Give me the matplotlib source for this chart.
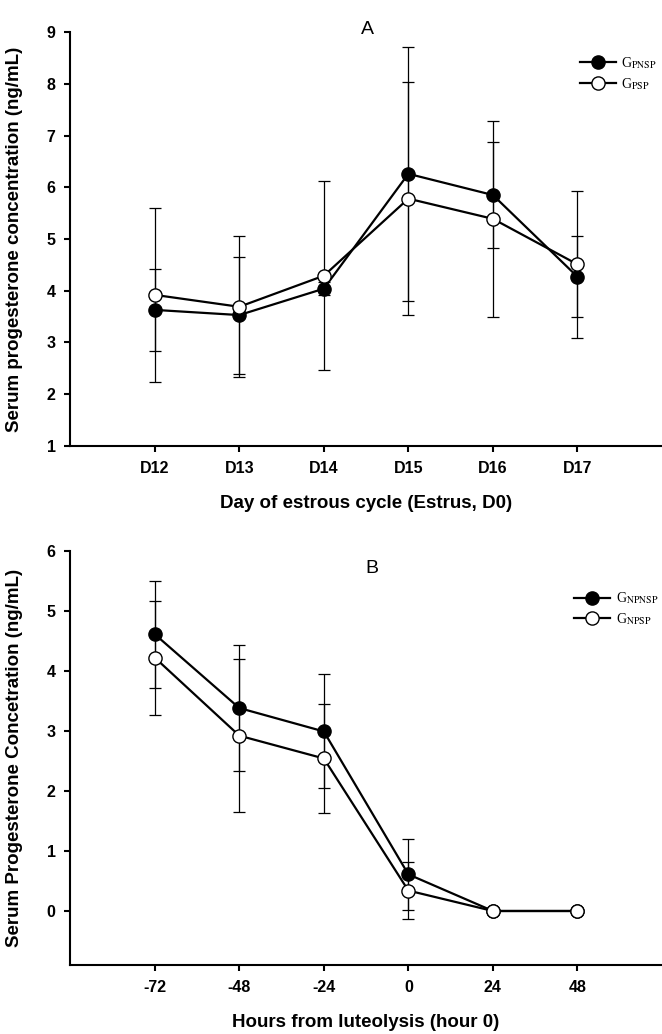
import matplotlib.pyplot as plt
import numpy as np

plt.rcParams['font.family'] = ['Liberation Sans', 'DejaVu Sans']
plt.rcParams['mathtext.fontset'] = 'stix'
plt.rcParams['axes.unicode_minus'] = False

# Panel A: days of the estrous cycle
days = ['D12', 'D13', 'D14', 'D15', 'D16', 'D17']
pnsp_mean = [3.63, 3.53, 4.04, 6.26, 5.85, 4.27]
pnsp_err = [0.80, 1.13, 0.12, 2.45, 1.03, 0.78]
psp_mean = [3.92, 3.69, 4.29, 5.78, 5.39, 4.51]
psp_err = [1.68, 1.36, 1.83, 2.25, 1.90, 1.42]

# Panel B: hours from luteolysis
hours = [-72, -48, -24, 0, 24, 48]
npnsp_mean = [4.61, 3.38, 2.99, 0.61, 0.0, 0.0]
npnsp_err = [0.89, 1.05, 0.95, 0.59, 0.0, 0.0]
npsp_mean = [4.22, 2.92, 2.54, 0.34, 0.0, 0.0]
npsp_err = [0.95, 1.27, 0.91, 0.47, 0.0, 0.0]


def draw_pair(ax, x, m1, e1, m2, e2, lab1, lab2):
    ax.errorbar(x, m1, yerr=e1, fmt='none', ecolor='black', elinewidth=0.9,
                capsize=4, capthick=0.9, zorder=1)
    ax.errorbar(x, m2, yerr=e2, fmt='none', ecolor='black', elinewidth=0.9,
                capsize=4, capthick=0.9, zorder=1)
    ax.plot(x, m1, '-o', color='black', lw=1.6, ms=9.5, mfc='black',
            mec='black', mew=1, label=lab1, zorder=3)
    ax.plot(x, m2, '-o', color='black', lw=1.6, ms=9.5, mfc='white',
            mec='black', mew=1, label=lab2, zorder=4)


def style_axes(ax):
    for s in ['top', 'right']:
        ax.spines[s].set_visible(False)
    for s in ['left', 'bottom']:
        ax.spines[s].set_linewidth(1.5)
    ax.tick_params(direction='out', length=4.5, width=1.5, labelsize=11.5, pad=6)
    for lab in ax.get_xticklabels() + ax.get_yticklabels():
        lab.set_fontweight('bold')


fig = plt.figure(figsize=(6.62, 10.34), dpi=100)

# ---- A ----
axA = fig.add_axes([0.106, 0.5687, 0.894, 0.4003])
xA = np.arange(1, len(days) + 1)
draw_pair(axA, xA, pnsp_mean, pnsp_err, psp_mean, psp_err,
          r'G$_{\mathrm{PNSP}}$', r'G$_{\mathrm{PSP}}$')
axA.set_xlim(0, 7)
axA.set_ylim(1, 9)
axA.set_xticks(xA)
axA.set_xticklabels(days)
axA.set_yticks(range(1, 10))
style_axes(axA)
axA.set_xlabel('Day of estrous cycle (Estrus, D0)', fontsize=13.5, fontweight='bold', labelpad=14)
axA.set_ylabel('Serum progesterone concentration (ng/mL)', fontsize=13.5, fontweight='bold')
axA.yaxis.set_label_coords(-0.079, 0.5)
axA.set_title('A', fontsize=14, x=0.503, y=0.975)
axA.legend(loc='upper left', bbox_to_anchor=(0.84, 0.974), frameon=False,
           prop={'family': 'Liberation Serif', 'size': 10}, handlelength=2.6,
           handletextpad=0.4, labelspacing=0.35)

# ---- B ----
axB = fig.add_axes([0.106, 0.0667, 0.894, 0.4007])
draw_pair(axB, hours, npnsp_mean, npnsp_err, npsp_mean, npsp_err,
          r'G$_{\mathrm{NPNSP}}$', r'G$_{\mathrm{NPSP}}$')
axB.set_xlim(-96, 72)
axB.set_ylim(-0.9, 6)
axB.set_xticks(hours)
axB.set_yticks(range(0, 7))
style_axes(axB)
axB.set_xlabel('Hours from luteolysis (hour 0)', fontsize=13.5, fontweight='bold', labelpad=14)
axB.set_ylabel('Serum Progesterone Concetration (ng/mL)', fontsize=13.5, fontweight='bold')
axB.yaxis.set_label_coords(-0.079, 0.5)
axB.set_title('B', fontsize=14, x=0.51, y=0.925)
axB.legend(loc='upper left', bbox_to_anchor=(0.83, 0.934), frameon=False,
           prop={'family': 'Liberation Serif', 'size': 10}, handlelength=2.6,
           handletextpad=0.4, labelspacing=0.35)

fig.savefig('out.png', dpi=100)
